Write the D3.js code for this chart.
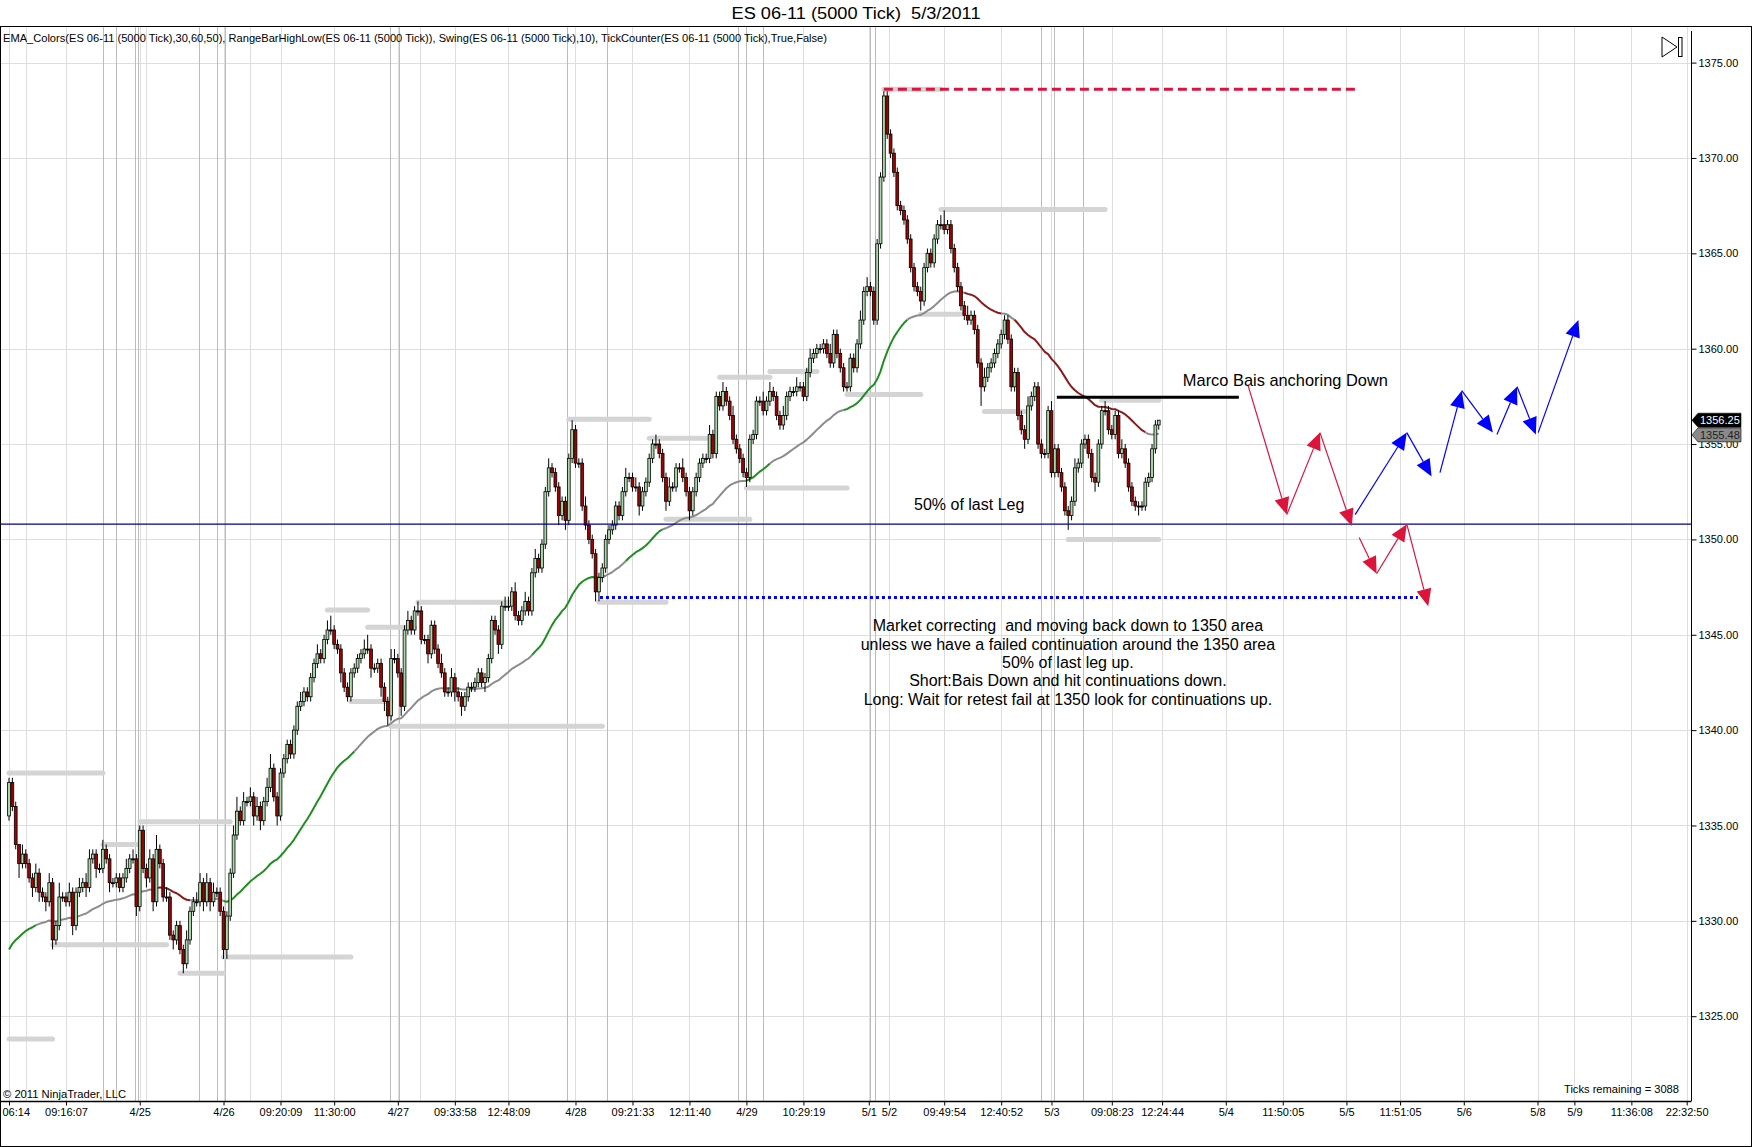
<!DOCTYPE html>
<html><head><meta charset="utf-8">
<script src="https://cdn.jsdelivr.net/npm/d3@7"></script>
<style>
body{margin:0;background:#fff}
svg{display:block}
text{font-family:"Liberation Sans",Arial,sans-serif}
</style>
</head><body>
<svg id="c" width="1752" height="1147"></svg>
<script>
// ---------------- DATA ----------------
const firstOpen = 1335.5;
const closes = [
1337.25,1336,1334,1333,1333.5,1333,1332.25,1331.75,1332.5,1331.5,
1331.25,1331,1332,1329,1329.75,1331.25,1331.25,1331,1331.5,1329.75,
1331.5,1331.75,1332,1331.75,1333.25,1333.5,1332.75,1332.75,1333.75,1333.25,
1332,1332,1332.25,1331.75,1332.25,1332.75,1333.25,1333.25,1330.75,1334.75,
1332.75,1332.25,1333.25,1331,1333.75,1333,1331.25,1331.25,1329.25,1329,
1329.75,1328.5,1327.75,1329,1330.5,1331,1331,1332,1331,1332,
1331,1331.5,1331.5,1330.5,1328.5,1330.25,1332.5,1334.5,1335.75,1335.25,
1336.25,1336.25,1336.5,1335.5,1336,1335.25,1336.25,1337,1338,1336.5,
1335.5,1337.75,1338.5,1339.25,1338.75,1340,1341.25,1341.5,1342,1341.75,
1342.75,1343.5,1344,1343.75,1344.75,1345.25,1345.25,1344.5,1344.25,1343,
1342.25,1341.75,1343,1343.25,1343.75,1344,1344.25,1344.25,1343.25,1343.25,
1343.5,1342.25,1341.5,1340.75,1343.75,1343.75,1343,1341.25,1345.25,1345.75,
1345.25,1346.25,1346.25,1344.75,1344.75,1344,1345.5,1344.25,1343.5,1343,
1342,1342,1342.75,1342,1341.75,1341.25,1341.75,1342.25,1342.25,1342.5,
1343,1342.5,1342.75,1343.75,1345.75,1345.25,1344.5,1346.5,1346.5,1346.5,
1347.25,1346,1345.75,1346.25,1346.75,1346.25,1348.25,1349,1348.5,1349.75,
1352.5,1353.75,1353.5,1352.75,1351.25,1352,1351,1354.25,1355.75,1354,
1354,1351.75,1350.75,1350,1349.25,1347.25,1348,1348.5,1350,1350.5,
1350.75,1351.75,1351.25,1352.5,1353.25,1353.25,1352.75,1352.75,1351.75,1352.5,
1353,1354.25,1355,1355,1354.5,1353.25,1352,1352.75,1352.75,1353.75,
1353.75,1353.25,1352.5,1351.5,1352.5,1353.25,1354,1354.25,1354.25,1355.5,
1354.5,1357.5,1357,1357.75,1357.25,1356.5,1355.25,1354.75,1354.25,1353.5,
1353.25,1355.25,1355.5,1357.25,1357.25,1356.75,1357.25,1357.75,1357.5,1356.5,
1356,1356.5,1357.5,1357.75,1357.75,1358,1358,1357.5,1358.75,1359.5,
1359.75,1360,1360,1360.25,1359.75,1359.25,1360.75,1359.75,1359,1358,
1358,1359.5,1359,1360.25,1361.5,1363,1363.25,1363,1361.5,1365.5,
1369,1373.25,1371.25,1370.25,1369.25,1367.5,1367.25,1366.75,1365.75,1364.25,
1363.25,1363,1362.5,1364.25,1365,1364.5,1365.75,1366.5,1366.5,1366.25,
1366.5,1365.25,1364.25,1363.25,1362.25,1361.75,1361.5,1361.75,1361,1359.25,
1358,1358.5,1359,1359.25,1359.75,1360.25,1360.75,1361.5,1360.5,1358,
1358.75,1356.5,1355.75,1355.25,1357,1357.5,1358,1355,1354.5,1354.5,
1356.75,1353.5,1354.75,1353.5,1352.75,1351.5,1351.25,1352,1353.75,1354,
1355,1355.25,1354.5,1353.25,1353,1355,1356.75,1356.75,1355.75,1355.5,
1356.5,1354.5,1354.75,1354,1352.75,1352,1351.75,1351.75,1351.75,1353,
1353.25,1354.75,1356,1356.25
];
// wick extensions above / below the body, in 0.25-point ticks
const upWick = [
1,1,1,0,2,1,1,1,2,1, 1,1,2,1,1,3,1,1,2,1, 1,2,1,2,2,1,1,1,2,1, 1,1,1,1,1,2,1,2,1,1,
1,1,2,1,3,1,1,2,1,1, 1,1,1,2,1,1,2,2,1,2, 1,2,1,1,1,1,1,2,3,1, 2,1,2,1,2,1,1,2,3,1,
1,1,1,1,1,1,1,2,1,1, 1,1,2,1,1,2,3,1,1,1, 1,1,1,1,1,1,2,3,1,1, 1,1,1,1,2,2,1,1,1,2,
1,1,2,1,1,1,1,1,1,2, 1,1,2,1,1,1,1,1,1,1, 1,1,1,1,1,1,1,1,2,2, 1,2,1,1,2,1,1,2,1,1,
1,2,1,1,1,1,1,1,2,1, 1,1,2,1,1,1,1,1,1,1, 1,1,1,1,2,1,1,2,1,1, 1,1,1,2,1,1,1,2,1,1,
1,2,1,1,1,1,1,1,1,2, 1,1,1,2,1,1,2,1,1,1, 1,1,1,1,1,2,1,2,1,1, 1,2,1,1,1,2,1,1,1,2,
1,1,1,1,1,2,1,1,1,1, 1,1,1,1,2,1,2,1,1,1, 1,1,1,1,1,1,1,1,1,1, 1,1,1,1,1,1,1,1,2,3,
1,1,1,1,1,1,2,1,1,1, 1,2,1,1,1,1,1,1,1,1, 1,1,1,1,2,1,1,1,1,1, 1,2,1,1,1,1,1,1,2,1,
1,1,1,1,1,1,1,2,1,1, 1,1,2,1,1,1,1,1,1,1, 1,1,1,0
];
const dnWick = [
1,1,1,3,1,1,1,2,1,2, 1,2,1,2,1,1,1,1,1,2, 1,1,1,2,1,1,2,1,1,1, 2,1,1,1,1,1,1,1,2,1,
1,2,1,2,1,1,1,1,1,2, 1,1,2,1,1,1,1,1,2,1, 2,1,1,1,2,2,1,1,1,1, 1,1,1,2,1,2,1,1,1,1,
2,1,1,1,1,1,1,1,1,1, 1,1,1,1,1,1,1,1,1,2, 1,1,1,1,1,1,1,1,2,1, 1,2,2,2,1,1,1,2,1,1,
1,1,1,1,1,2,1,1,1,1, 1,1,1,2,1,2,1,1,1,1, 1,1,2,1,1,1,2,1,1,1, 1,1,1,1,1,1,1,1,1,1,
1,1,1,1,2,1,2,1,1,1, 1,1,1,1,1,2,2,1,1,1, 1,1,1,1,1,1,1,1,2,1, 1,1,1,1,1,1,2,1,1,1,
1,1,1,2,1,1,1,1,1,1, 1,1,1,1,1,1,1,1,1,1, 2,1,1,1,1,1,1,1,1,1, 1,1,1,1,1,1,1,1,1,1,
1,1,1,1,1,1,1,1,1,1, 1,1,1,1,1,1,1,1,1,1, 1,1,1,1,1,1,1,1,1,1, 1,1,2,1,1,1,1,1,1,1,
1,1,1,1,1,1,1,1,1,1, 4,1,1,1,1,1,1,1,1,1, 1,1,1,2,1,1,1,1,1,1, 1,1,1,1,1,1,3,1,1,1,
1,1,1,1,2,1,1,1,1,1, 1,1,1,1,1,1,1,2,1,1, 1,1,1,1
];
const emaSeed = 1328.5;       // EMA value at first visible bar (prior history)
const emaPeriod = 50;
// EMA colour state runs: start bar and state (u = up, n = neutral, d = down)
const emaRunStart = [0,8,44,54,64,103,156,176,184,195,220,227,249,268,285,296,300,339];
const emaRunState = ["u","n","d","n","u","n","u","n","u","n","u","n","u","n","d","n","d","n"];
const lastPrice = "1356.25", lastPriceVal = 1356.25;
const emaLabel = "1355.48", emaLabelVal = 1355.48;

const priceTicks = [1325,1330,1335,1340,1345,1350,1355,1360,1365,1370,1375];
const timeLabels = ["06:14","09:16:07","4/25","4/26","09:20:09","11:30:00","4/27","09:33:58","12:48:09","4/28",
  "09:21:33","12:11:40","4/29","10:29:19","5/1","5/2","09:49:54","12:40:52","5/3","09:08:23",
  "12:24:44","5/4","11:50:05","5/5","11:51:05","5/6","5/8","5/9","11:36:08","22:32:50"];
const timeIdx = [0,17,39,64,81,97,116,133,149,169,186,203,220,237,256.5,262.5,279,296,311,329,344,363,380,399,415,434,456,467,484,500.5];
const extraGridIdx = [5,41,72,122.6];
const sessionIdx = [28,32,37.5,38.5,56.7,62,64.4,113.7,116.4,166.6,178.3,217.6,220,225,256.9,258.4,308,311.8,320.5];

// swing high/low lines: [startBar, endBar, price]
const swingStart = [0,13,28,39,51,64,0,95,102,107,114,122,167,176,191,196,220,212,227,250,278,272,291,316,261,326];
const swingEnd   = [28,47,38,66,64,102,13,107,114,121,177,149,191,196,208,221,250,227,241,272,327,284,303,343,278,343];
const swingPrice = [1337.75,1328.75,1334,1335.2,1327.25,1328.1,1323.8,1346.3,1341.5,1345.4,1340.2,1346.7,1356.3,1346.7,1355.3,1351.05,1352.7,1358.5,1358.8,1357.6,1367.3,1361.8,1356.7,1350,1373.6,1357.3];

// drawn objects
const fiftyPctPrice = 1350.8;
const redDashed = {from:261, to:402.3, price:1373.6};
const blueDotted = {from:176.3, to:420.3, price:1346.95};
const blackLine = {from:312.6, to:366.9, price:1357.45};
const redArrows = [
  [[369.6,1358.1],[381.2,1351.3]],
  [[381.2,1351.3],[391.1,1355.6]],
  [[391.1,1355.6],[400.6,1350.7]],
  [[402.8,1350.1],[408.0,1348.2]],
  [[408.0,1348.2],[417.0,1350.8]],
  [[417.0,1350.8],[423.4,1346.5]]
];
const blueArrows = [
  [[401.6,1351.3],[417.0,1355.6]],
  [[417.0,1355.6],[424.4,1353.3]],
  [[426.9,1353.5],[433.4,1357.8]],
  [[433.4,1357.8],[442.7,1355.6]],
  [[443.9,1355.5],[449.9,1358.0]],
  [[449.9,1358.0],[455.5,1355.5]],
  [[456.2,1355.6],[468.2,1361.5]]
];
const noteMarco = {bar:350.2, price:1358.04, text:"Marco Bais anchoring Down"};
const noteFifty = {bar:270, price:1351.54, text:"50% of last Leg"};
const noteBlock = {bar:315.9, price:1345.19, lines:[
  "Market correcting  and moving back down to 1350 area",
  "unless we have a failed continuation around the 1350 area",
  "50% of last leg up.",
  "Short:Bais Down and hit continuations down.",
  "Long: Wait for retest fail at 1350 look for continuations up."]};
const titleText = "ES 06-11 (5000 Tick)  5/3/2011";
const indicatorText = "EMA_Colors(ES 06-11 (5000 Tick),30,60,50), RangeBarHighLow(ES 06-11 (5000 Tick)), Swing(ES 06-11 (5000 Tick),10), TickCounter(ES 06-11 (5000 Tick),True,False)";
const copyrightText = "\u00A9 2011 NinjaTrader, LLC";
const ticksText = "Ticks remaining = 3088";

// ---------------- LAYOUT ----------------
const W = 1752, H = 1147;
const plotT = 27, plotB = 1101, plotR = 1691;
const svg = d3.select("#c");
const x = d3.scaleLinear().domain([0, 500]).range([9, 1685]);
const y = d3.scaleLinear().domain([1325, 1375]).range([1016.2, 62.6]);
const stateColor = {u:"#1e8f1e", n:"#8c8c8c", d:"#8b1a1a"};

svg.append("defs").append("clipPath").attr("id","pc")
  .append("rect").attr("x",1).attr("y",plotT).attr("width",plotR-1).attr("height",plotB-plotT);

svg.append("rect").attr("width",W).attr("height",H).attr("fill","#fff");

const plot = svg.append("g").attr("clip-path","url(#pc)");

// grid
const grid = plot.append("g");
grid.selectAll(".hg").data(priceTicks).join("line")
  .attr("x1",0).attr("x2",plotR).attr("y1",d=>Math.round(y(d))+0.5).attr("y2",d=>Math.round(y(d))+0.5)
  .attr("stroke","#dedede").attr("stroke-width",1);
grid.selectAll(".vg").data(timeIdx.concat(extraGridIdx)).join("line")
  .attr("x1",d=>Math.round(x(d))+0.5).attr("x2",d=>Math.round(x(d))+0.5).attr("y1",plotT).attr("y2",plotB)
  .attr("stroke","#dedede").attr("stroke-width",1);
grid.selectAll(".sg").data(sessionIdx).join("line")
  .attr("x1",d=>Math.round(x(d))+0.5).attr("x2",d=>Math.round(x(d))+0.5).attr("y1",plotT).attr("y2",plotB)
  .attr("stroke","#bcbcbc").attr("stroke-width",1);

// swing lines
const swings = swingStart.map((s,k)=>({s, e:swingEnd[k], p:swingPrice[k]}));
plot.append("g").selectAll("line").data(swings).join("line")
  .attr("x1",d=>x(d.s)).attr("x2",d=>x(d.e)).attr("y1",d=>y(d.p)).attr("y2",d=>y(d.p))
  .attr("stroke","#d4d4d4").attr("stroke-width",5).attr("stroke-linecap","round");

// bars
const bars = closes.map((c,i)=>{
  const o = i ? closes[i-1] : firstOpen;
  const uw = upWick[i] ?? 1, dw = dnWick[i] ?? 1;
  return {i, o, c, h: Math.max(o,c) + uw*0.25, l: Math.min(o,c) - dw*0.25};
});

// EMA
const alpha = 2/(emaPeriod+1);
const ema = [];
closes.forEach((c,i)=>{ ema.push(i===0 ? emaSeed : ema[i-1] + alpha*(c-ema[i-1])); });
const emaG = plot.append("g");
const emaLine = d3.line().x(d=>x(d[0])).y(d=>y(d[1]));
emaRunStart.forEach((s,k)=>{
  const e = k+1<emaRunStart.length ? emaRunStart[k+1] : ema.length-1;
  const pts = [];
  for (let i=s;i<=e;i++) pts.push([i, ema[i]]);
  emaG.append("path").attr("d",emaLine(pts)).attr("fill","none")
    .attr("stroke",stateColor[emaRunState[k]]).attr("stroke-width",2).attr("stroke-linejoin","round");
});

// candles
const cg = plot.append("g");
cg.selectAll(".wk").data(bars).join("line")
  .attr("x1",d=>x(d.i)).attr("x2",d=>x(d.i)).attr("y1",d=>y(d.h)).attr("y2",d=>y(d.l))
  .attr("stroke","#000").attr("stroke-width",1);
cg.selectAll(".bd").data(bars).join("rect")
  .attr("x",d=>x(d.i)-1.4).attr("width",2.8)
  .attr("y",d=>y(Math.max(d.o,d.c)))
  .attr("height",d=>Math.max(1,Math.abs(y(d.o)-y(d.c))))
  .attr("fill",d=>d.c>d.o ? "#a8d8a8" : (d.c<d.o ? "#a50000" : "#000"))
  .attr("stroke","#000").attr("stroke-width",0.8);

// drawing objects
const ann = plot.append("g");
ann.append("line").attr("x1",0).attr("x2",plotR).attr("y1",y(fiftyPctPrice)).attr("y2",y(fiftyPctPrice))
  .attr("stroke","#00008b").attr("stroke-width",1.2);
ann.append("line").attr("x1",x(redDashed.from)).attr("x2",x(redDashed.to))
  .attr("y1",y(redDashed.price)).attr("y2",y(redDashed.price))
  .attr("stroke","#dc143c").attr("stroke-width",3).attr("stroke-dasharray","9,5");
ann.append("line").attr("x1",x(blueDotted.from)).attr("x2",x(blueDotted.to))
  .attr("y1",y(blueDotted.price)).attr("y2",y(blueDotted.price))
  .attr("stroke","#0000ff").attr("stroke-width",3).attr("stroke-dasharray","3,3");
ann.append("line").attr("x1",x(blackLine.from)).attr("x2",x(blackLine.to))
  .attr("y1",y(blackLine.price)).attr("y2",y(blackLine.price))
  .attr("stroke","#000").attr("stroke-width",3);

function arrow(g, p0, p1, color){
  const x0=x(p0[0]), y0=y(p0[1]), x1=x(p1[0]), y1=y(p1[1]);
  const a=Math.atan2(y1-y0,x1-x0), L=17, hw=7.5;
  const bx=x1-L*Math.cos(a), by=y1-L*Math.sin(a);
  g.append("line").attr("x1",x0).attr("y1",y0).attr("x2",bx).attr("y2",by)
    .attr("stroke",color).attr("stroke-width",1.2);
  const pts=[[x1,y1],[bx+hw*Math.sin(a),by-hw*Math.cos(a)],[bx-hw*Math.sin(a),by+hw*Math.cos(a)]];
  g.append("polygon").attr("points",pts.map(p=>p.join(",")).join(" ")).attr("fill",color);
}
redArrows.forEach(s=>arrow(ann,s[0],s[1],"#dc143c"));
blueArrows.forEach(s=>arrow(ann,s[0],s[1],"#0000ff"));

ann.append("text").attr("x",x(noteMarco.bar)).attr("y",y(noteMarco.price))
  .attr("font-size",16.4).attr("fill","#000").text(noteMarco.text);
ann.append("text").attr("x",x(noteFifty.bar)).attr("y",y(noteFifty.price))
  .attr("font-size",16).attr("fill","#000").text(noteFifty.text);
const blk = ann.append("text").attr("x",x(noteBlock.bar)).attr("y",y(noteBlock.price))
  .attr("font-size",16).attr("fill","#000").attr("text-anchor","middle").style("white-space","pre");
noteBlock.lines.forEach((t,k)=>{
  blk.append("tspan").attr("x",x(noteBlock.bar)).attr("dy",k?18.4:0).text(t);
});

// labels inside chart
svg.append("text").attr("x",3).attr("y",42).attr("font-size",11).attr("fill","#000")
  .attr("textLength",824).attr("lengthAdjust","spacingAndGlyphs").text(indicatorText);
svg.append("text").attr("x",3).attr("y",1098).attr("font-size",11).attr("fill","#000")
  .attr("textLength",123).attr("lengthAdjust","spacingAndGlyphs").text(copyrightText);
svg.append("text").attr("x",1679).attr("y",1093).attr("font-size",11).attr("fill","#000")
  .attr("text-anchor","end").attr("textLength",115).attr("lengthAdjust","spacingAndGlyphs").text(ticksText);

// title
svg.append("text").attr("x",856).attr("y",19).attr("font-size",16).attr("fill","#000")
  .attr("text-anchor","middle").style("white-space","pre")
  .attr("textLength",249).attr("lengthAdjust","spacingAndGlyphs").text(titleText);

// frame
svg.append("line").attr("x1",0).attr("x2",W).attr("y1",26.5).attr("y2",26.5).attr("stroke","#000");
svg.append("line").attr("x1",0.5).attr("x2",0.5).attr("y1",26.5).attr("y2",H).attr("stroke","#000");
svg.append("line").attr("x1",W-0.5).attr("x2",W-0.5).attr("y1",26.5).attr("y2",H).attr("stroke","#000");
svg.append("line").attr("x1",0).attr("x2",W).attr("y1",H-0.5).attr("y2",H-0.5).attr("stroke","#000");

// right axis
svg.append("line").attr("x1",plotR+0.5).attr("x2",plotR+0.5).attr("y1",31).attr("y2",plotB).attr("stroke","#000");
const ya = svg.append("g").attr("transform",`translate(${plotR+0.5},0)`)
  .call(d3.axisRight(y).tickValues(priceTicks).tickFormat(d3.format(".2f")).tickSize(5).tickPadding(2));
ya.select(".domain").remove();
ya.selectAll("text").attr("font-size",11).attr("font-family","'Liberation Sans',Arial,sans-serif").attr("fill","#000");
ya.selectAll("line").attr("stroke","#000");

// x axis
svg.append("line").attr("x1",0).attr("x2",plotR+0.5).attr("y1",plotB+0.5).attr("y2",plotB+0.5).attr("stroke","#000").attr("stroke-width",1.3);
const xa = svg.append("g").attr("transform",`translate(0,${plotB+0.5})`)
  .call(d3.axisBottom(x).tickValues(timeIdx).tickFormat((d,k)=>timeLabels[k]).tickSize(4).tickPadding(3));
xa.select(".domain").remove();
xa.selectAll("text").attr("font-size",11).attr("font-family","'Liberation Sans',Arial,sans-serif").attr("fill","#000");
xa.selectAll("text").filter((d,k)=>k===0).attr("text-anchor","start").attr("x",-7);
xa.selectAll("line").attr("stroke","#000");

// price markers on the axis
function marker(val, label, fill, tcol){
  const yy = y(val);
  svg.append("polygon").attr("points",`${plotR+1},${yy} ${plotR+7},${yy-7} ${plotR+50},${yy-7} ${plotR+50},${yy+7} ${plotR+7},${yy+7}`)
    .attr("fill",fill).attr("stroke","#000").attr("stroke-width",0.6);
  svg.append("text").attr("x",plotR+9).attr("y",yy+4).attr("font-size",11).attr("fill",tcol).text(label);
}
marker(emaLabelVal, emaLabel, "#8a8a8a", "#222");
marker(lastPriceVal, lastPrice, "#000", "#fff");

// top-right icon
svg.append("polygon").attr("points","1662,37 1662,57 1677,47").attr("fill","none").attr("stroke","#000").attr("stroke-width",1);
svg.append("rect").attr("x",1678.5).attr("y",37.5).attr("width",3.5).attr("height",19).attr("fill","none").attr("stroke","#000").attr("stroke-width",1);
</script>
</body></html>
